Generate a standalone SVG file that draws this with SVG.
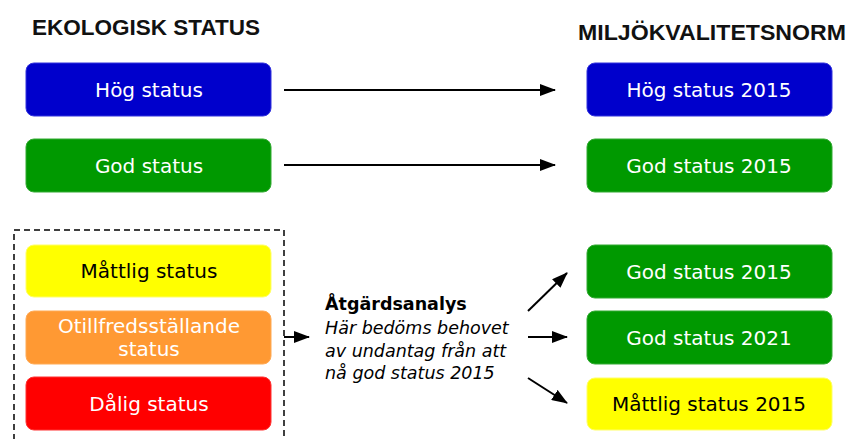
<svg xmlns="http://www.w3.org/2000/svg" width="848" height="439" viewBox="0 0 848 439">
  <style>
    .box { stroke-width: 1; }
    .blue { fill: #0000cc; stroke: #3333dd; }
    .green { fill: #009900; stroke: #33aa33; }
    .yellow { fill: #ffff00; stroke: #ffff66; }
    .orange { fill: #ff9933; stroke: #ffaa55; }
    .red { fill: #ff0000; stroke: #ff3333; }
    .lbl { font-family: "DejaVu Sans", Verdana, sans-serif; font-size: 20px; text-anchor: middle; fill: #ffffff; }
    .dark { fill: #000000; }
    .head { font-family: "Liberation Sans", Arial, sans-serif; font-weight: bold; font-size: 21.5px; fill: #111111; }
    .note { font-family: "DejaVu Sans", Verdana, sans-serif; font-size: 17.5px; fill: #000000; }
    .conn { stroke: #000000; stroke-width: 2; fill: none; marker-end: url(#arrow); }
  </style>
  <defs>
    <marker id="arrow" markerWidth="8" markerHeight="6" refX="7.5" refY="3" orient="auto" markerUnits="strokeWidth">
      <path d="M0,0 L8,3 L0,6 Z" fill="#000000"/>
    </marker>
  </defs>
  <rect width="848" height="439" fill="#ffffff"/>

  <!-- column headings -->
  <text class="head" x="32" y="35" textLength="228" lengthAdjust="spacingAndGlyphs">EKOLOGISK STATUS</text>
  <text class="head" x="578" y="40" textLength="268" lengthAdjust="spacingAndGlyphs">MILJÖKVALITETSNORM</text>

  <!-- dashed frame around the lower three classes -->
  <rect id="group-frame" x="14" y="230" width="270" height="230" fill="none" stroke="#000000" stroke-width="1.5" stroke-dasharray="6 4"/>

  <!-- ecological status classes -->
  <g id="hog-status">
    <rect class="box blue" x="26" y="63" width="245" height="53" rx="8"/>
    <text class="lbl" x="149" y="97">Hög status</text>
  </g>
  <g id="god-status">
    <rect class="box green" x="26" y="139" width="245" height="53" rx="8"/>
    <text class="lbl" x="149" y="173">God status</text>
  </g>
  <g id="mattlig-status">
    <rect class="box yellow" x="26" y="245" width="245" height="52" rx="8"/>
    <text class="lbl dark" x="149" y="278">Måttlig status</text>
  </g>
  <g id="otillfredsstallande-status">
    <rect class="box orange" x="26" y="311" width="245" height="53" rx="8"/>
    <text class="lbl" x="149" y="333">Otillfredsställande</text>
    <text class="lbl" x="149" y="356">status</text>
  </g>
  <g id="dalig-status">
    <rect class="box red" x="26" y="377" width="245" height="53" rx="8"/>
    <text class="lbl" x="149" y="411">Dålig status</text>
  </g>

  <!-- measures analysis -->
  <g id="atgardsanalys">
    <text class="note" x="325" y="310" font-weight="bold" font-size="17px">Åtgärdsanalys</text>
    <text class="note" x="325" y="334" font-style="italic">Här bedöms behovet</text>
    <text class="note" x="325" y="357" font-style="italic">av undantag från att</text>
    <text class="note" x="325" y="379" font-style="italic">nå god status 2015</text>
  </g>

  <!-- environmental quality standards -->
  <g id="hog-2015">
    <rect class="box blue" x="587" y="63" width="245" height="53" rx="8"/>
    <text class="lbl" x="709" y="97">Hög status 2015</text>
  </g>
  <g id="god-2015-a">
    <rect class="box green" x="587" y="139" width="245" height="53" rx="8"/>
    <text class="lbl" x="709" y="173">God status 2015</text>
  </g>
  <g id="god-2015-b">
    <rect class="box green" x="587" y="245" width="245" height="53" rx="8"/>
    <text class="lbl" x="709" y="279">God status 2015</text>
  </g>
  <g id="god-2021">
    <rect class="box green" x="587" y="311" width="245" height="53" rx="8"/>
    <text class="lbl" x="709" y="345">God status 2021</text>
  </g>
  <g id="mattlig-2015">
    <rect class="box yellow" x="587" y="378" width="245" height="52" rx="8"/>
    <text class="lbl dark" x="709" y="411">Måttlig status 2015</text>
  </g>

  <!-- connectors -->
  <g id="connectors">
    <line class="conn" x1="284" y1="90" x2="555" y2="90"/>
    <line class="conn" x1="284" y1="165" x2="555" y2="165"/>
    <line class="conn" x1="284" y1="337" x2="309" y2="337"/>
    <line class="conn" x1="528" y1="311" x2="567" y2="273"/>
    <line class="conn" x1="528" y1="337" x2="567" y2="337"/>
    <line class="conn" x1="528" y1="378" x2="567" y2="403"/>
  </g>
</svg>
